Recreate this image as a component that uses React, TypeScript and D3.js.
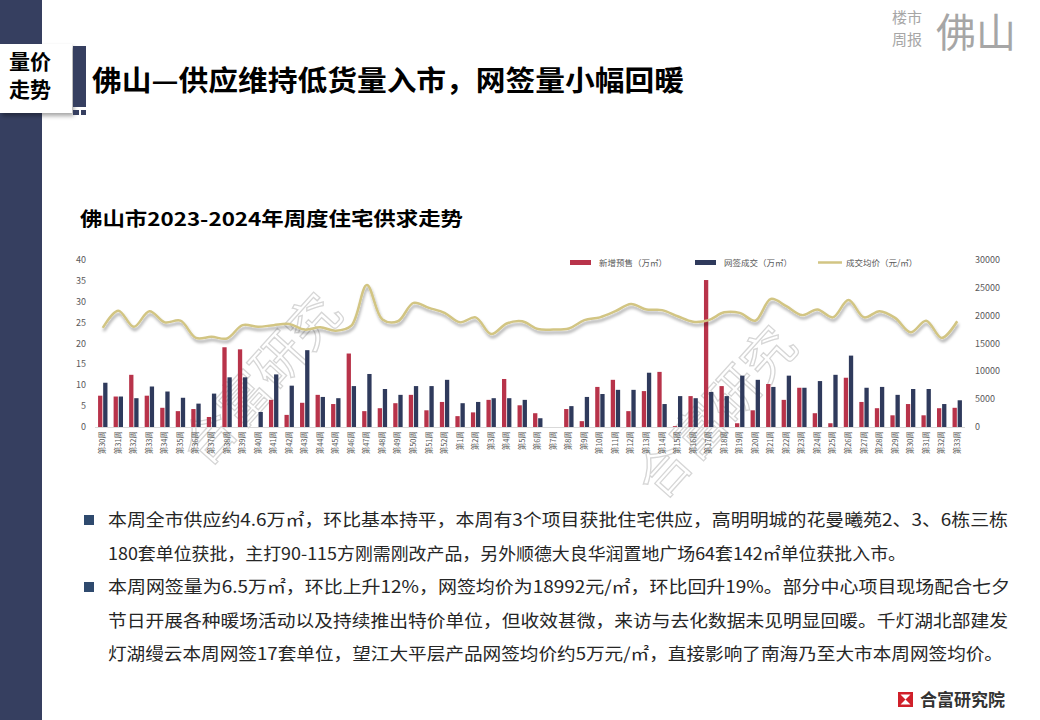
import React from 'react';
import * as d3 from 'd3';

const weeks = [
  '第30周', '第31周', '第32周', '第33周', '第34周', '第35周', '第36周', '第37周', '第38周', '第39周',
  '第40周', '第41周', '第42周', '第43周', '第44周', '第45周', '第46周', '第47周', '第48周', '第49周',
  '第50周', '第51周', '第52周',
  '第1周', '第2周', '第3周', '第4周', '第5周', '第6周', '第7周', '第8周', '第9周', '第10周',
  '第11周', '第12周', '第13周', '第14周', '第15周', '第16周', '第17周', '第18周', '第19周', '第20周',
  '第21周', '第22周', '第23周', '第24周', '第25周', '第26周', '第27周', '第28周', '第29周', '第30周',
  '第31周', '第32周', '第33周',
];

// 新增预售（万㎡）
const supply = [
  7.5, 7.3, 12.5, 7.5, 4.6, 3.8, 4.3, 2.4, 19.1, 18.6,
  0, 6.5, 2.9, 5.8, 7.7, 5.5, 17.6, 3.8, 4.5, 5.7,
  7.7, 4.0, 6.0,
  2.6, 3.5, 6.5, 11.5, 5.2, 3.3, 0, 4.3, 1.4, 9.6,
  11.3, 3.8, 8.6, 13.2, 0.2, 7.4, 35.2, 9.8, 0.9, 4.0,
  10.3, 6.5, 9.4, 3.3, 0.9, 11.8, 6.0, 4.5, 2.8, 5.5,
  2.8, 4.5, 4.6,
];

// 网签成交（万㎡）
const deals = [
  10.6, 7.3, 6.9, 9.7, 8.5, 7.0, 5.6, 8.0, 11.9, 11.9,
  3.6, 12.6, 9.9, 18.4, 7.2, 6.9, 9.8, 12.7, 9.1, 7.7,
  9.8, 9.8, 11.3,
  5.7, 6.0, 6.9, 6.9, 6.5, 2.1, 0, 5.0, 7.2, 7.9,
  8.9, 8.9, 13.0, 5.5, 7.4, 6.9, 8.4, 7.4, 12.3, 11.3,
  9.6, 12.3, 9.4, 11.0, 12.5, 17.1, 9.4, 9.6, 7.7, 9.1,
  9.1, 5.5, 6.4,
];

// 成交均价（元/㎡）
const price = [
  17800, 20900, 18000, 20800, 18800, 19100, 16000, 16200, 15900, 18300,
  18000, 18300, 18500, 17500, 17900, 17300, 18200, 25500, 19300, 19000,
  22300, 21400, 20500,
  18800, 19700, 16700, 18600, 19000, 17600, 17500, 17700, 19200, 19700,
  20800, 22100, 21100, 21000, 19900, 18900, 19200, 20600, 20500, 19100,
  23000, 21700, 20100, 21100, 19700, 22800, 19700, 20800, 19600, 17000,
  19100, 16000, 18992,
];

const leftTicks = [0, 5, 10, 15, 20, 25, 30, 35, 40];
const rightTicks = [0, 5000, 10000, 15000, 20000, 25000, 30000];

const bullets = [
  [
    '本周全市供应约4.6万㎡，环比基本持平，本周有3个项目获批住宅供应，高明明城的花曼曦苑2、3、6栋三栋',
    '180套单位获批，主打90-115方刚需刚改产品，另外顺德大良华润置地广场64套142㎡单位获批入市。',
  ],
  [
    '本周网签量为6.5万㎡，环比上升12%，网签均价为18992元/㎡，环比回升19%。部分中心项目现场配合七夕',
    '节日开展各种暖场活动以及持续推出特价单位，但收效甚微，来访与去化数据未见明显回暖。千灯湖北部建发',
    '灯湖缦云本周网签17套单位，望江大平层产品网签均价约5万元/㎡，直接影响了南海乃至大市本周网签均价。',
  ],
];
const lineEnds = [1008, 906, 1010, 1008, 1003];

const RED = '#b8334a';
const NAVY = '#2f3a5c';
const GOLD = '#d2c583';
const FONT = '"Noto Sans CJK SC", "Noto Sans", sans-serif';

export default function App() {
  const W = 1040;
  const H = 720;
  const top = 260;
  const base = 427;

  const x = d3.scaleBand<string>().domain(weeks.map((_, i) => String(i))).range([95, 965]).padding(0);
  const yL = d3.scaleLinear().domain([0, 40]).range([base, top]);
  const yR = d3.scaleLinear().domain([0, 30000]).range([base, top]);
  const bw = 4.3;
  const cx = (i: number) => (x(String(i)) || 0) + x.bandwidth() / 2;

  const line = d3
    .line<number>()
    .x((_, i) => cx(i))
    .y((d) => yR(d))
    .curve(d3.curveCatmullRom.alpha(0.5));
  const path = line(price) || '';

  let lineIdx = 0;

  return (
    <svg width={W} height={H} style={{ position: 'absolute', left: 0, top: 0, fontFamily: FONT }}>
      <defs>
        <filter id="shadow" x="-5%" y="-5%" width="110%" height="130%">
          <feDropShadow dx="1" dy="3" stdDeviation="1.5" floodColor="#000" floodOpacity="0.35" />
        </filter>
        <filter id="boxShadow" x="-10%" y="-10%" width="130%" height="130%">
          <feDropShadow dx="2" dy="3" stdDeviation="2" floodColor="#000" floodOpacity="0.35" />
        </filter>
      </defs>
      <rect width={W} height={H} fill="#fff" />

      {/* left sidebar */}
      <rect x={0} y={0} width={42} height={H} fill="#363f60" />
      <rect x={0} y={44} width={72} height={69} fill="#fff" filter="url(#boxShadow)" />
      <rect x={73} y={46} width={13} height={61} fill="#363f60" />
      <rect x={73} y={110} width={6} height={5} fill="#363f60" />
      <rect x={81} y={110} width={5} height={5} fill="#363f60" />
      <text x={9} y={69} fontSize={21} fontWeight="bold" fill="#000">量价</text>
      <text x={9} y={97} fontSize={21} fontWeight="bold" fill="#000">走势</text>
      <text x={92} y={91} fontSize={28} fontWeight="bold" fill="#000" textLength={592} lengthAdjust="spacingAndGlyphs">
        佛山—供应维持低货量入市，网签量小幅回暖
      </text>

      {/* top-right logo */}
      <text x={892} y={23} fontSize={15} fill="#a6a6a6">楼市</text>
      <text x={892} y={45} fontSize={15} fill="#a6a6a6">周报</text>
      <text x={936} y={47} fontSize={40} fill="#a6a6a6">佛山</text>

      {/* chart title */}
      <text x={80} y={226} fontSize={19} fontWeight="bold" fill="#000" textLength={383} lengthAdjust="spacingAndGlyphs">
        佛山市2023-2024年周度住宅供求走势
      </text>

      {/* watermarks */}
      {[
        [275, 392],
        [730, 425],
      ].map(([wx, wy], i) => (
        <text
          key={i}
          x={wx}
          y={wy}
          fontSize={52}
          fill="none"
          stroke="#d6d6d6"
          strokeWidth={1.3}
          textAnchor="middle"
          transform={`rotate(-48 ${wx} ${wy})`}
        >
          合富研究
        </text>
      ))}

      {/* legend */}
      <rect x={570} y={260} width={21} height={5} fill={RED} />
      <text x={599} y={266} fontSize={8.5} fill="#595959">新增预售（万㎡）</text>
      <rect x={695} y={260} width={21} height={5} fill={NAVY} />
      <text x={724} y={266} fontSize={8.5} fill="#595959">网签成交（万㎡）</text>
      <line x1={818} x2={842} y1={262.5} y2={262.5} stroke={GOLD} strokeWidth={2.5} />
      <text x={846} y={266} fontSize={8.5} fill="#595959">成交均价（元/㎡）</text>

      {/* axes labels */}
      {leftTicks.map((t) => (
        <text key={t} x={86} y={yL(t) + 3} fontSize={9} fill="#595959" textAnchor="end">
          {t}
        </text>
      ))}
      {rightTicks.map((t) => (
        <text key={t} x={975} y={yR(t) + 3} fontSize={9} fill="#595959">
          {t}
        </text>
      ))}

      {/* bars */}
      {supply.map((v, i) => (
        <rect key={'s' + i} x={cx(i) - bw - 0.4} y={yL(v)} width={bw} height={base - yL(v)} fill={RED} />
      ))}
      {deals.map((v, i) => (
        <rect key={'d' + i} x={cx(i) + 0.4} y={yL(v)} width={bw} height={base - yL(v)} fill={NAVY} />
      ))}

      <line x1={95} x2={965} y1={base + 0.5} y2={base + 0.5} stroke="#d9d9d9" strokeWidth={1} />

      {/* price line */}
      <path d={path} fill="none" stroke={GOLD} strokeWidth={2.5} filter="url(#shadow)" />

      {/* x labels */}
      {weeks.map((w, i) => (
        <text
          key={'w' + i}
          x={0}
          y={0}
          fontSize={7.5}
          fill="#595959"
          textAnchor="end"
          transform={`translate(${cx(i) + 2.5},${base + 4}) rotate(-90)`}
        >
          {w}
        </text>
      ))}

      {/* bullet text */}
      {bullets.map((group, gi) => {
        const first = lineIdx;
        const items = group.map((s, li) => {
          const idx = lineIdx++;
          const yy = 526 + idx * 33.5;
          return (
            <text
              key={li}
              x={108}
              y={yy}
              fontSize={17}
              fill="#262626"
              textLength={lineEnds[idx] - 108}
              lengthAdjust="spacingAndGlyphs"
            >
              {s}
            </text>
          );
        });
        return (
          <g key={gi}>
            <rect x={84} y={515 + first * 33.5} width={10} height={10} fill="#2f4a6e" />
            {items}
          </g>
        );
      })}

      {/* footer logo */}
      <rect x={898} y={692} width={15} height={15} fill="#d0202a" />
      <path d="M900.5,694.5 L910.5,694.5 L905.5,699.5 Z M900.5,704.5 L910.5,704.5 L905.5,699.5 Z" fill="#fff" />
      <text x={920} y={706} fontSize={17} fontWeight="bold" fill="#333">合富研究院</text>
    </svg>
  );
}
